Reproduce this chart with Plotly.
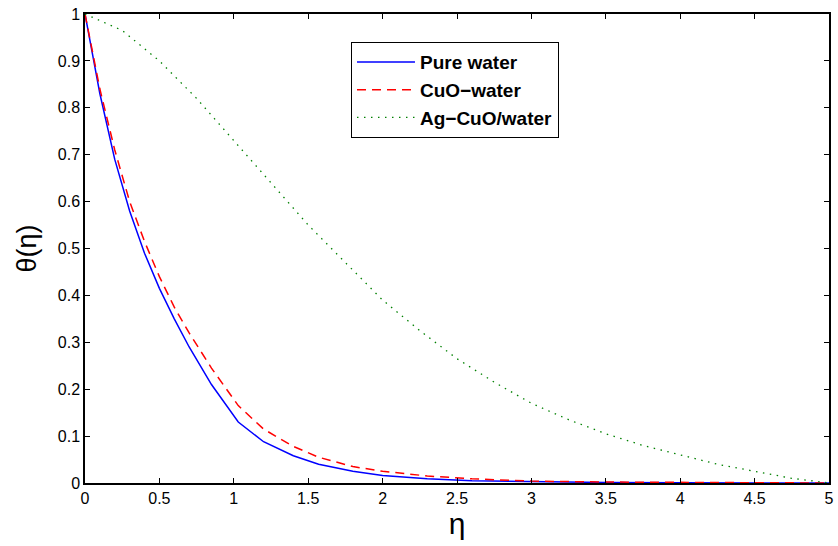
import plotly.graph_objects as go

# Data
eta_a = [0, 0.1, 0.2, 0.3, 0.4, 0.5, 0.6, 0.7, 0.85, 1.03, 1.2, 1.4, 1.57, 1.8, 2.0, 2.3, 2.6, 3.0, 3.5, 4.0, 4.5, 5.0]
pure_water = [1, 0.83, 0.69, 0.58, 0.49, 0.415, 0.35, 0.29, 0.21, 0.13, 0.088, 0.058, 0.04, 0.025, 0.016, 0.009, 0.005, 0.003, 0.001, 0.0005, 0.0002, 0]
cuo_water = [1, 0.84, 0.71, 0.60, 0.515, 0.44, 0.375, 0.32, 0.245, 0.165, 0.115, 0.078, 0.055, 0.035, 0.025, 0.015, 0.009, 0.004, 0.002, 0.001, 0.0005, 0]

eta_b = [0, 0.25, 0.5, 0.75, 1, 1.25, 1.5, 1.75, 2, 2.25, 2.5, 2.75, 3, 3.25, 3.5, 3.75, 4, 4.25, 4.5, 4.75, 5]
ag_cuo_water = [1, 0.965, 0.9, 0.82, 0.73, 0.64, 0.55, 0.47, 0.39, 0.325, 0.265, 0.215, 0.17, 0.135, 0.105, 0.08, 0.06, 0.04, 0.025, 0.01, 0]

x_ticks = [0, 0.5, 1, 1.5, 2, 2.5, 3, 3.5, 4, 4.5, 5]
y_ticks = [0, 0.1, 0.2, 0.3, 0.4, 0.5, 0.6, 0.7, 0.8, 0.9, 1]

font = "Liberation Sans, Arial, Helvetica, sans-serif"

fig = go.Figure()
fig.add_trace(go.Scatter(x=eta_a, y=pure_water, mode="lines", name="<b>Pure water</b>",
                         line=dict(color="#0000ff", width=1.5)))
fig.add_trace(go.Scatter(x=eta_a, y=cuo_water, mode="lines", name="<b>CuO−water</b>",
                         line=dict(color="#ff0000", width=1.5, dash="9px,6px")))
fig.add_trace(go.Scatter(x=eta_b, y=ag_cuo_water, mode="lines", name="<b>Ag−CuO/water</b>",
                         line=dict(color="#008000", width=1.3, dash="1.5px,5.5px")))

axis_common = dict(showgrid=False, zeroline=False, showline=True, linecolor="black", linewidth=1.5,
                   mirror="ticks", ticks="inside", ticklen=5, tickwidth=1, tickcolor="black",
                   automargin=False,
                   tickfont=dict(family=font, size=16, color="black"))

fig.update_xaxes(range=[0, 5], tickvals=x_ticks, ticktext=[f"{v:g}" for v in x_ticks],
                 title=dict(text="η", font=dict(family=font, size=30, color="black"), standoff=2),
                 **axis_common)
fig.update_yaxes(range=[0, 1], tickvals=y_ticks, ticktext=[f"{v:g}" for v in y_ticks],
                 title=dict(text="θ(η)", font=dict(family=font, size=27, color="black"), standoff=13),
                 **axis_common)

fig.update_layout(
    width=838, height=546,
    margin=dict(l=85, r=9, t=14, b=63),
    paper_bgcolor="white", plot_bgcolor="white",
    font=dict(family=font, color="black"),
    legend=dict(x=0.3575, y=0.94, xanchor="left", yanchor="top",
                bordercolor="black", borderwidth=1, bgcolor="white",
                font=dict(family=font, size=19, color="black"),
                itemwidth=58, tracegroupgap=0),
)

fig.write_html("out.html")
